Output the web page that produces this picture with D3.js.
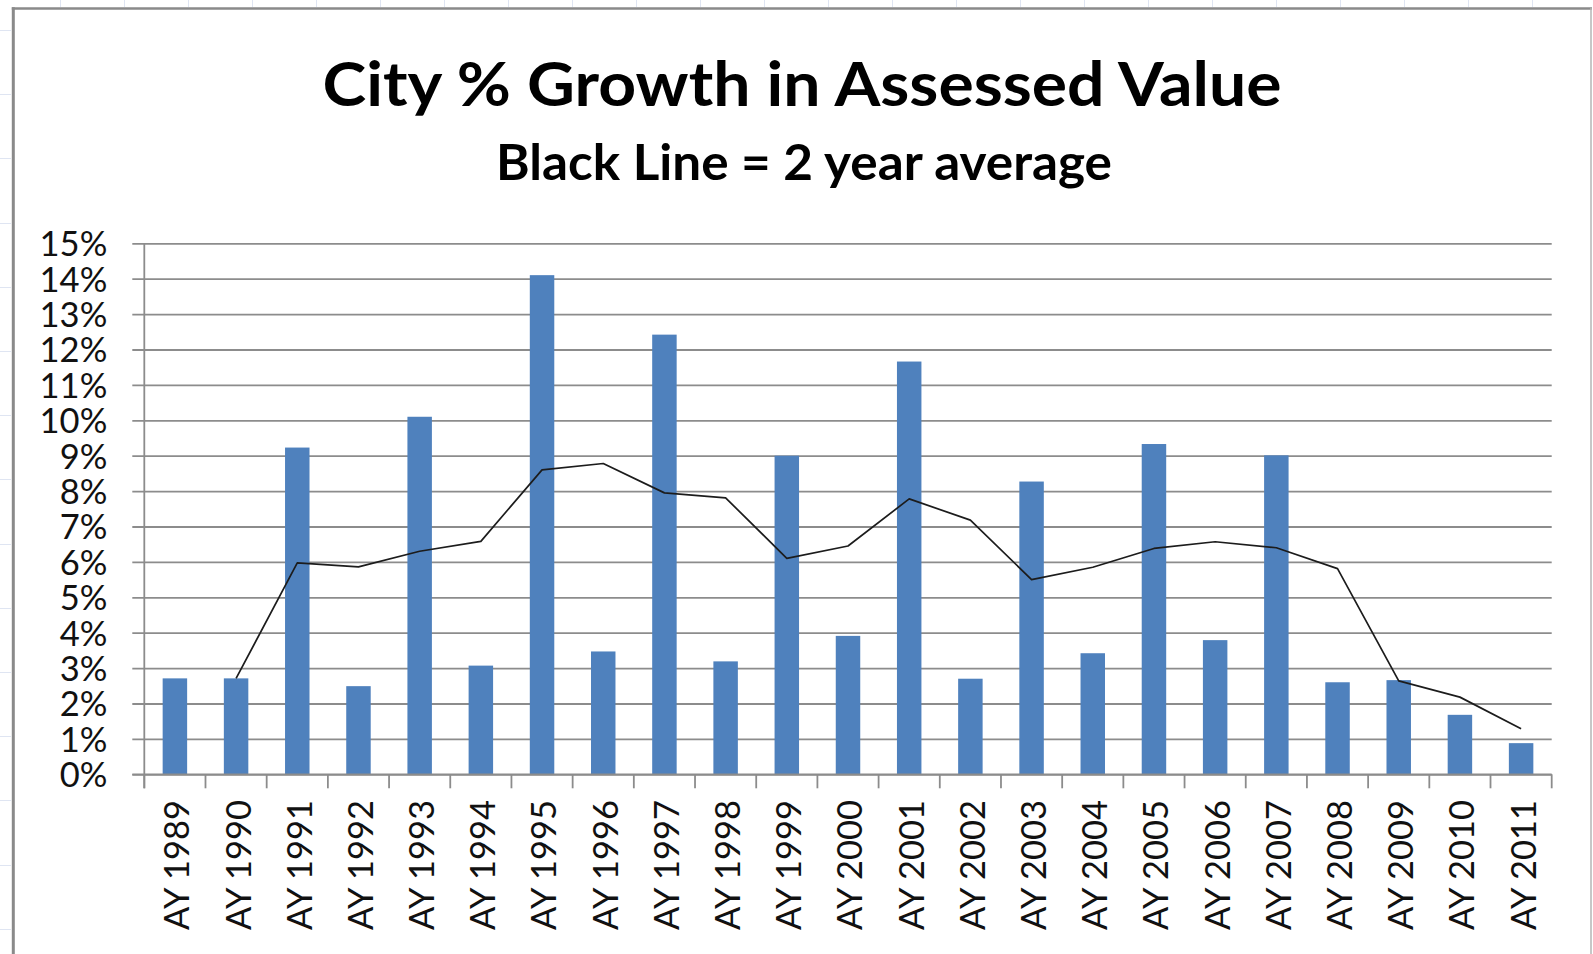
<!DOCTYPE html>
<html>
<head>
<meta charset="utf-8">
<script src="https://cdn.jsdelivr.net/npm/d3@7"></script>
<style>
  html, body { margin: 0; padding: 0; background: #fff; }
  svg { display: block; }
</style>
</head>
<body>
<svg id="chart" width="1593" height="954"></svg>
<script>
// Assessed-value growth by assessment year (percent)
const categories = ["AY 1989","AY 1990","AY 1991","AY 1992","AY 1993","AY 1994","AY 1995","AY 1996",
  "AY 1997","AY 1998","AY 1999","AY 2000","AY 2001","AY 2002","AY 2003","AY 2004","AY 2005",
  "AY 2006","AY 2007","AY 2008","AY 2009","AY 2010","AY 2011"];
const growth = [2.71, 2.71, 9.23, 2.49, 10.10, 3.07, 14.10, 3.47, 12.42, 3.19, 9.00, 3.91,
  11.66, 2.70, 8.27, 3.42, 9.33, 3.79, 9.01, 2.60, 2.66, 1.68, 0.88];
// Two-year moving average (no value for the first year)
const twoYearAvg = [null, 2.71, 5.97, 5.86, 6.30, 6.58, 8.60, 8.78, 7.95, 7.81, 6.10, 6.45,
  7.78, 7.18, 5.50, 5.85, 6.38, 6.57, 6.40, 5.81, 2.64, 2.18, 1.29];
const yTicks = [0,1,2,3,4,5,6,7,8,9,10,11,12,13,14,15];
const titleText = "City % Growth in Assessed Value";
const subtitleText = "Black Line = 2 year average";

const svg = d3.select("#chart");
const W = 1593, H = 954;

// faint worksheet cell lines around the chart object
const sheet = svg.append("g").attr("stroke", "#dfe5f2").attr("stroke-width", 1);
d3.range(60, W, 64).forEach(x => sheet.append("line").attr("x1", x + .5).attr("x2", x + .5).attr("y1", 0).attr("y2", 7));
d3.range(30, H, 64.2).forEach(y => sheet.append("line").attr("x1", 0).attr("x2", 11).attr("y1", Math.round(y) + .5).attr("y2", Math.round(y) + .5));

// chart frame
svg.append("line").attr("x1", 13.3).attr("x2", 13.3).attr("y1", 7.2).attr("y2", H)
  .attr("stroke", "#8a8a8a").attr("stroke-width", 3);
svg.append("line").attr("x1", 11.8).attr("x2", 1592).attr("y1", 8.5).attr("y2", 8.5)
  .attr("stroke", "#8a8a8a").attr("stroke-width", 2.7);
svg.append("line").attr("x1", 1591).attr("x2", 1591).attr("y1", 8).attr("y2", H)
  .attr("stroke", "#b5b5b5").attr("stroke-width", 1.5);

// plot area
const plot = { left: 144.3, right: 1551.7, top: 243.3, bottom: 774.3 };

const x = d3.scaleBand().domain(categories)
  .range([plot.left, plot.right]).paddingInner(0.6).paddingOuter(0.3);
const y = d3.scaleLinear().domain([0, 15]).range([plot.bottom, plot.top]);

const gridColor = "#8c8c8c";

// horizontal gridlines + value labels
const yAxis = d3.axisLeft(y).tickValues(yTicks).tickFormat(d => d + "%")
  .tickSize(-(plot.right - plot.left + 12)).tickPadding(25);
const gy = svg.append("g").attr("transform", `translate(${plot.left - 12},0)`).call(yAxis);
gy.select(".domain").remove();
gy.selectAll(".tick line").attr("stroke", gridColor).attr("stroke-width", 1.8);
gy.selectAll(".tick text")
  .attr("font-family", "Lato, 'Liberation Sans', sans-serif")
  .attr("font-size", 34.5).attr("fill", "#111").attr("dy", "0.36em");

// vertical axis line
svg.append("line").attr("x1", plot.left).attr("x2", plot.left)
  .attr("y1", plot.top).attr("y2", plot.bottom + 14)
  .attr("stroke", gridColor).attr("stroke-width", 1.8);

// category boundary ticks
const step = x.step();
const boundaries = d3.range(categories.length + 1).map(i => x(categories[0]) - x.paddingOuter() * step + i * step);
svg.append("g").selectAll("line").data(boundaries).join("line")
  .attr("x1", d => d).attr("x2", d => d)
  .attr("y1", plot.bottom).attr("y2", plot.bottom + 14)
  .attr("stroke", gridColor).attr("stroke-width", 1.8);

// bars
svg.append("g").selectAll("rect").data(categories).join("rect")
  .attr("x", d => x(d))
  .attr("width", x.bandwidth())
  .attr("y", (d, i) => y(growth[i]))
  .attr("height", (d, i) => y(0) - y(growth[i]))
  .attr("fill", "#4f81bd");

// baseline redrawn over bar bottoms
svg.append("line").attr("x1", plot.left - 12).attr("x2", plot.right)
  .attr("y1", y(0)).attr("y2", y(0)).attr("stroke", gridColor).attr("stroke-width", 1.8);

// two-year average line
const line = d3.line()
  .defined(d => d.v != null)
  .x(d => x(d.c) + x.bandwidth() / 2)
  .y(d => y(d.v));
svg.append("path")
  .datum(categories.map((c, i) => ({ c, v: twoYearAvg[i] })))
  .attr("d", line)
  .attr("fill", "none").attr("stroke", "#1c1c1c").attr("stroke-width", 1.7)
  .attr("stroke-linejoin", "round");

// category labels, rotated
svg.append("g").selectAll("text").data(categories).join("text")
  .attr("transform", d => `translate(${x(d) + x.bandwidth() / 2 + 2},800) rotate(-90)`)
  .attr("text-anchor", "end")
  .attr("dy", "0.36em")
  .attr("font-family", "Lato, 'Liberation Sans', sans-serif")
  .attr("font-size", 34.5).attr("fill", "#111")
  .text(d => d);

// titles
const title = svg.append("text")
  .attr("x", 802).attr("y", 106).attr("text-anchor", "middle")
  .attr("font-family", "Lato, 'Open Sans', sans-serif").attr("font-weight", 700)
  .attr("font-size", 62).attr("fill", "#000")
  .text(titleText);
title.attr("textLength", 959).attr("lengthAdjust", "spacingAndGlyphs");

const subtitle = svg.append("text")
  .attr("x", 804).attr("y", 180).attr("text-anchor", "middle")
  .attr("font-family", "Lato, 'Open Sans', sans-serif").attr("font-weight", 700)
  .attr("font-size", 49).attr("fill", "#000")
  .text(subtitleText);
subtitle.attr("textLength", 616).attr("lengthAdjust", "spacingAndGlyphs");
</script>
</body>
</html>
